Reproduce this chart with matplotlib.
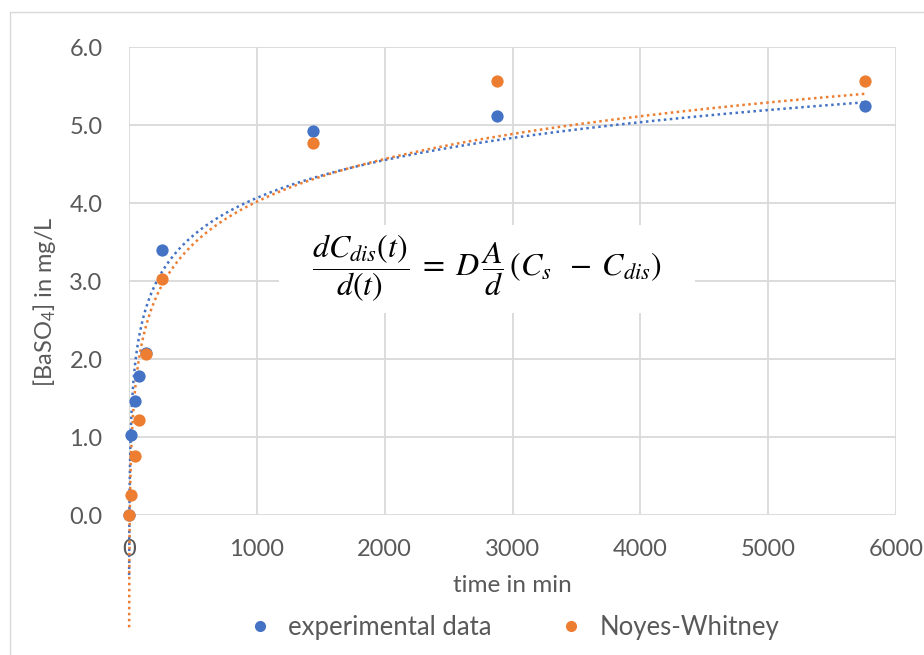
import numpy as np
import matplotlib
matplotlib.use("Agg")
import matplotlib.pyplot as plt
from matplotlib.lines import Line2D
from matplotlib.patches import Rectangle

# ---- data ----
time_min = [0, 15, 45, 75, 135, 255, 1440, 2880, 5760]
c_exp = [0.0, 1.03, 1.46, 1.78, 2.08, 3.40, 4.92, 5.12, 5.25]
c_nw = [0.0, 0.26, 0.76, 1.22, 2.06, 3.03, 4.77, 5.56, 5.56]

# logarithmic trendlines y = a*ln(t) + b, coefficients
trend_exp = (0.70, -0.77)
trend_nw = (0.79, -1.44)
trend_t_start = 1.0

series_names = ["experimental data", "Noyes-Whitney"]
x_ticks = [0, 1000, 2000, 3000, 4000, 5000, 6000]
y_ticks = [0.0, 1.0, 2.0, 3.0, 4.0, 5.0, 6.0]

BLUE = "#4472C4"
ORANGE = "#ED7D31"
GRID = "#D9D9D9"
TXT = "#595959"

W, H = 924, 655

plt.rcParams["font.family"] = ["Lato", "DejaVu Sans"]
plt.rcParams["mathtext.fontset"] = "custom"
plt.rcParams["mathtext.rm"] = "Lato"
plt.rcParams["mathtext.it"] = "Lato:italic"


def px(x, y):
    """pixel position (from top-left) -> figure fraction"""
    return x / W, 1 - y / H


fig = plt.figure(figsize=(W / 100, H / 100), dpi=100)

# outer chart border (cut off at right and bottom like the screenshot)
fig.patches.append(Rectangle(px(10, 700), 2.0, (700 - 12) / H, transform=fig.transFigure,
                             fill=False, edgecolor=GRID, lw=1.0))

left, top = px(129, 47)
right, bottom = px(896, 515)
ax = fig.add_axes([left, bottom, right - left, top - bottom])

# trendlines
t_fit = np.geomspace(trend_t_start, time_min[-1], 2000)
for (a, b), col in [(trend_exp, BLUE), (trend_nw, ORANGE)]:
    ax.plot(t_fit, a * np.log(t_fit) + b, color=col, lw=1.8,
            linestyle=(0, (1, 1.4)), zorder=2, clip_on=False)

ax.scatter(time_min, c_exp, s=78, color=BLUE, zorder=3, clip_on=False, linewidths=0)
ax.scatter(time_min, c_nw, s=78, color=ORANGE, zorder=4, clip_on=False, linewidths=0)

ax.set_xlim(0, 6000)
ax.set_ylim(0, 6)
ax.set_xticks(x_ticks)
ax.set_yticks(y_ticks)
ax.set_yticklabels([f"{v:.1f}" for v in y_ticks])
ax.grid(True, color=GRID, lw=1.3)
ax.set_axisbelow(True)
for s in ax.spines.values():
    s.set_visible(False)
ax.tick_params(length=0, labelsize=17, labelcolor=TXT)
ax.tick_params(axis="y", pad=19)
ax.tick_params(axis="x", pad=17)

fig.text(*px(512, 586), "time in min", ha="center", va="center", fontsize=17.5, color=TXT)
fig.text(*px(45, 302), "[BaSO$_4$] in mg/L", ha="center", va="center", rotation=90,
         fontsize=17, color=TXT)

# equation text box
bx0, by0 = px(279, 313)
bx1, by1 = px(695, 225)
fig.patches.append(Rectangle((bx0, by0), bx1 - bx0, by1 - by0, transform=fig.transFigure,
                             facecolor="white", edgecolor="none", zorder=5))
eq = r"$\dfrac{dC_{dis}(t)}{d(t)}\;=\;D\,\dfrac{A}{d}\,(C_s\;\;-\;C_{dis})$"
fig.text(*px(487, 268), eq, ha="center", va="center", fontsize=23, color="black",
         math_fontfamily="stix", zorder=6)

handles = [Line2D([], [], ls="none", marker="o", ms=7, color=BLUE),
           Line2D([], [], ls="none", marker="o", ms=7, color=ORANGE)]
leg = fig.legend(handles, series_names, loc="center", bbox_to_anchor=px(513, 627),
                 ncol=2, frameon=False, fontsize=18.5, handlelength=1.0,
                 handletextpad=0.6, columnspacing=2.6)
for t in leg.get_texts():
    t.set_color(TXT)

fig.savefig("out.png", dpi=100)
